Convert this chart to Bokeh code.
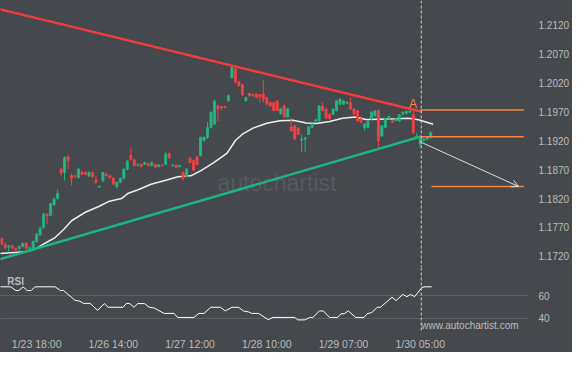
from bokeh.plotting import figure
from bokeh.layouts import column
from bokeh.models import Range1d, FixedTicker, Span, Arrow, OpenHead, PrintfTickFormatter, Label
from bokeh.core.properties import value
from bokeh.embed import file_html
from bokeh.resources import INLINE

# ---------------- data ----------------
candle_open = [1.1751, 1.1740, 1.1736, 1.1738, 1.1734, 1.1734, 1.1737, 1.1743, 1.1733, 1.1734,
               1.1745, 1.1757, 1.1770, 1.1793, 1.1791, 1.1809, 1.1820, 1.1871, 1.1865, 1.1893,
               1.1860, 1.1859, 1.1856, 1.1866, 1.1865, 1.1859, 1.1865, 1.1852, 1.1840, 1.1851,
               1.1862, 1.1859, 1.1855, 1.1841, 1.1848, 1.1855, 1.1871, 1.1895, 1.1887, 1.1878,
               1.1879, 1.1879, 1.1881, 1.1877, 1.1879, 1.1875, 1.1878, 1.1879, 1.1898, 1.1877,
               1.1878, 1.1875, 1.1865, 1.1858, 1.1889, 1.1886, 1.1892, 1.1894, 1.1920, 1.1926,
               1.1943, 1.1949, 1.1980, 1.1979, 1.1979, 1.1989, 1.2029, 1.2044, 1.2022, 1.2017,
               1.1989, 1.2002, 1.2000, 1.2001, 1.2000, 1.2001, 1.1995, 1.1986, 1.1986, 1.1989,
               1.1967, 1.1980, 1.1961, 1.1944, 1.1946, 1.1942, 1.1921, 1.1923, 1.1931, 1.1943,
               1.1954, 1.1954, 1.1980, 1.1975, 1.1966, 1.1966, 1.1972, 1.1983, 1.1983, 1.1985,
               1.1986, 1.1975, 1.1972, 1.1958, 1.1943, 1.1943, 1.1958, 1.1963, 1.1972, 1.1928,
               1.1943, 1.1958, 1.1954, 1.1955, 1.1954, 1.1966, 1.1967, 1.1969, 1.1966, 1.1926,
               1.1914, 1.1920, 1.1923, 1.1926]
candle_high = [1.1753, 1.1744, 1.1740, 1.1741, 1.1735, 1.1739, 1.1744, 1.1744, 1.1737, 1.1747,
               1.1761, 1.1772, 1.1796, 1.1795, 1.1813, 1.1822, 1.1835, 1.1874, 1.1893, 1.1894,
               1.1863, 1.1862, 1.1872, 1.1868, 1.1867, 1.1867, 1.1867, 1.1860, 1.1842, 1.1866,
               1.1865, 1.1862, 1.1858, 1.1849, 1.1856, 1.1872, 1.1887, 1.1907, 1.1889, 1.1881,
               1.1881, 1.1884, 1.1882, 1.1884, 1.1880, 1.1880, 1.1879, 1.1900, 1.1900, 1.1880,
               1.1879, 1.1878, 1.1867, 1.1872, 1.1893, 1.1887, 1.1893, 1.1927, 1.1927, 1.1952,
               1.1971, 1.1991, 1.1983, 1.1980, 1.1980, 1.2000, 1.2050, 1.2047, 1.2024, 1.2018,
               1.1996, 1.2003, 1.2001, 1.2002, 1.2001, 1.2025, 1.1996, 1.1988, 1.1988, 1.1990,
               1.1977, 1.1983, 1.1977, 1.1960, 1.1947, 1.1943, 1.1931, 1.1926, 1.1945, 1.1950,
               1.1958, 1.1982, 1.1986, 1.1976, 1.1967, 1.1976, 1.1990, 1.1993, 1.1990, 1.1988,
               1.1995, 1.1976, 1.1973, 1.1959, 1.1950, 1.1956, 1.1971, 1.1973, 1.1974, 1.1947,
               1.1959, 1.1963, 1.1956, 1.1959, 1.1966, 1.1971, 1.1972, 1.1972, 1.1972, 1.1934,
               1.1930, 1.1924, 1.1927, 1.1936]
candle_low = [1.1740, 1.1732, 1.1727, 1.1731, 1.1727, 1.1730, 1.1735, 1.1732, 1.1730, 1.1732,
              1.1744, 1.1756, 1.1768, 1.1776, 1.1790, 1.1808, 1.1818, 1.1859, 1.1851, 1.1871,
              1.1843, 1.1856, 1.1855, 1.1860, 1.1861, 1.1858, 1.1855, 1.1845, 1.1839, 1.1848,
              1.1858, 1.1855, 1.1843, 1.1837, 1.1846, 1.1853, 1.1869, 1.1885, 1.1875, 1.1875,
              1.1874, 1.1878, 1.1875, 1.1875, 1.1872, 1.1874, 1.1875, 1.1878, 1.1888, 1.1875,
              1.1873, 1.1874, 1.1851, 1.1856, 1.1881, 1.1868, 1.1878, 1.1893, 1.1919, 1.1923,
              1.1941, 1.1947, 1.1954, 1.1972, 1.1976, 1.1988, 1.2028, 1.2019, 1.2014, 1.1997,
              1.1988, 1.1996, 1.1996, 1.1993, 1.1986, 1.1986, 1.1982, 1.1979, 1.1971, 1.1971,
              1.1965, 1.1960, 1.1960, 1.1936, 1.1921, 1.1930, 1.1901, 1.1901, 1.1930, 1.1941,
              1.1953, 1.1953, 1.1971, 1.1958, 1.1957, 1.1964, 1.1971, 1.1982, 1.1982, 1.1984,
              1.1973, 1.1964, 1.1953, 1.1950, 1.1938, 1.1941, 1.1956, 1.1962, 1.1908, 1.1927,
              1.1942, 1.1956, 1.1951, 1.1954, 1.1953, 1.1964, 1.1965, 1.1968, 1.1931, 1.1923,
              1.1908, 1.1919, 1.1921, 1.1924]
candle_close = [1.1741, 1.1735, 1.1738, 1.1735, 1.1732, 1.1737, 1.1742, 1.1734, 1.1735, 1.1746,
                1.1758, 1.1768, 1.1793, 1.1790, 1.1811, 1.1819, 1.1829, 1.1864, 1.1891, 1.1886,
                1.1855, 1.1858, 1.1871, 1.1862, 1.1862, 1.1865, 1.1858, 1.1848, 1.1841, 1.1865,
                1.1860, 1.1856, 1.1845, 1.1848, 1.1855, 1.1871, 1.1885, 1.1888, 1.1877, 1.1879,
                1.1875, 1.1882, 1.1877, 1.1882, 1.1874, 1.1878, 1.1877, 1.1897, 1.1891, 1.1878,
                1.1874, 1.1877, 1.1855, 1.1871, 1.1882, 1.1869, 1.1879, 1.1926, 1.1926, 1.1943,
                1.1969, 1.1989, 1.1975, 1.1977, 1.1977, 1.1998, 1.2047, 1.2021, 1.2015, 1.1999,
                1.1995, 1.1998, 1.1998, 1.1995, 1.1996, 1.1992, 1.1983, 1.1980, 1.1972, 1.1972,
                1.1975, 1.1961, 1.1975, 1.1937, 1.1923, 1.1931, 1.1923, 1.1925, 1.1944, 1.1949,
                1.1956, 1.1980, 1.1972, 1.1959, 1.1958, 1.1975, 1.1989, 1.1992, 1.1989, 1.1987,
                1.1975, 1.1966, 1.1954, 1.1952, 1.1949, 1.1954, 1.1969, 1.1972, 1.1920, 1.1946,
                1.1958, 1.1962, 1.1952, 1.1958, 1.1965, 1.1969, 1.1971, 1.1971, 1.1934, 1.1928,
                1.1926, 1.1923, 1.1926, 1.1934]
candle_idx = list(range(len(candle_open)))

# moving average (read as sample points: candle index, price)
ma_idx = [-0.6, 6.7, 9.6, 12.4, 15.3, 17.8, 20.1, 23.8, 27.8, 30.6, 34.3, 36.3, 39.1, 42.8,
          47.6, 50.5, 54.2, 57.0, 60.8, 64.6, 67.0, 69.0, 72.2, 76.0, 79.7, 83.5, 87.3, 90.2,
          94.0, 97.7, 101.5, 104.4, 108.2, 112.9, 116.7, 119.5, 123.7]
ma_price = [1.17249, 1.17278, 1.17323, 1.17427, 1.17525, 1.17669, 1.17820, 1.17958, 1.18062,
            1.18148, 1.18200, 1.18292, 1.18351, 1.18448, 1.18524, 1.18576, 1.18593, 1.18679,
            1.18823, 1.18987, 1.19204, 1.19313, 1.19422, 1.19503, 1.19544, 1.19555, 1.19506,
            1.19498, 1.19532, 1.19589, 1.19610, 1.19567, 1.19572, 1.19579, 1.19589, 1.19562,
            1.19486]

# RSI (sample points: candle index, value)
rsi_idx = [-0.7, 2.6, 4.0, 4.9, 6.1, 7.3, 8.5, 9.5, 15.3, 16.8, 17.7, 21.0, 22.4, 23.4, 25.3,
           27.5, 29.4, 30.5, 34.8, 35.7, 36.7, 37.9, 39.0, 40.9, 42.3, 43.8, 45.7, 46.6, 49.4,
           50.4, 55.1, 56.5, 58.0, 59.9, 62.7, 64.1, 66.0, 67.9, 69.3, 70.7, 71.7, 73.6, 74.6,
           76.4, 77.8, 82.6, 84.0, 84.9, 86.9, 88.3, 89.2, 91.1, 92.2, 94.0, 96.3, 97.3, 98.2,
           99.4, 101.5, 103.9, 104.8, 106.1, 107.7, 108.6, 111.9, 113.1, 115.0, 116.2, 117.2,
           118.4, 120.5, 121.4, 123.3]
rsi_val = [68.2, 68.2, 64.9, 64.9, 68.2, 64.9, 64.9, 68.2, 68.2, 64.9, 64.9, 56.1, 55.3, 53.4,
           53.4, 47.1, 53.2, 49.9, 49.9, 53.2, 53.2, 49.9, 53.2, 53.2, 49.9, 49.1, 45.8, 44.4,
           44.4, 40.8, 40.8, 44.4, 44.4, 49.9, 49.9, 46.6, 49.9, 49.9, 46.6, 45.8, 44.4, 44.4,
           42.5, 38.8, 40.8, 40.8, 40.8, 38.6, 38.6, 40.8, 40.8, 46.6, 46.6, 40.8, 40.8, 44.1,
           44.1, 46.6, 40.8, 40.8, 44.1, 45.2, 49.9, 49.9, 58.9, 55.9, 61.4, 59.4, 61.4, 59.4,
           67.7, 68.2, 68.2]

# trend lines (start / end: candle index, price)
resistance_idx = [-0.6, 120.2]
resistance_price = [1.21475, 1.19705]
support_idx = [-0.6, 120.0]
support_price = [1.17150, 1.19268]

# horizontal levels
level_price = [1.1973, 1.1927, 1.1841]
level_start = [120.0, 120.0, 123.2]
level_end = [149.7, 149.7, 149.7]

# forecast arrow
forecast_idx = [120.0, 148.2]
forecast_price = [1.19181, 1.18408]

# pattern point label
point_label = "A"
point_idx = 117.9
point_price = 1.19832

now_idx = 120.3

price_ticks = [1.1720, 1.1770, 1.1820, 1.1870, 1.1920, 1.1970, 1.2020, 1.2070, 1.2120, 1.2170]
rsi_ticks = [40, 60]
time_tick_idx = [10, 32, 54, 76, 98, 120]
time_tick_labels = ["1/23 18:00", "1/26 14:00", "1/27 12:00", "1/28 10:00", "1/29 07:00", "1/30 05:00"]

# ---------------- styling ----------------
BG = "#45484d"
TXT = "#bcbcbc"
GREEN = "#22b882"
RED = "#f04343"
ORANGE = "#f5853f"
FONT = "Liberation Sans"

x_range = Range1d(-0.37, 151.05)

p = figure(width=572, height=267, x_range=x_range, y_range=Range1d(1.17007, 1.21626),
           output_backend="svg", toolbar_location=None, x_axis_location=None,
           y_axis_location="right", min_border=0, min_border_right=39,
           background_fill_color=BG, border_fill_color=BG, outline_line_color=None)
p.xgrid.visible = False
p.ygrid.visible = False
ya = p.yaxis[0]
ya.ticker = FixedTicker(ticks=price_ticks)
ya.formatter = PrintfTickFormatter(format="%.4f")
ya.axis_line_color = None
ya.major_tick_line_color = None
ya.minor_tick_line_color = None
ya.major_label_text_color = TXT
ya.major_label_text_font = FONT
ya.major_label_text_font_size = "10px"
ya.major_label_standoff = 4

# watermark
p.text(x=[61.85], y=[1.18477], text=["autochartist"], text_font=value(FONT),
       text_font_size="23px", text_color="#55595e", text_baseline="alphabetic", text_align="left")

colors = [GREEN if c >= o else RED for o, c in zip(candle_open, candle_close)]
tops = [max(o, c) for o, c in zip(candle_open, candle_close)]
bots = [min(o, c) for o, c in zip(candle_open, candle_close)]

p.line(ma_idx, ma_price, line_color="#eeeeee", line_width=1.5)
p.segment(x0=candle_idx, y0=candle_low, x1=candle_idx, y1=candle_high, line_color=colors, line_width=1)
p.vbar(x=candle_idx, top=tops, bottom=bots, width=0.6, fill_color=colors, line_color=colors, line_width=0.8)

p.line(resistance_idx, resistance_price, line_color="#f03c3c", line_width=2.5)
p.line(support_idx, support_price, line_color="#1db386", line_width=2.5)

p.segment(x0=level_start, y0=level_price, x1=level_end, y1=level_price, line_color=ORANGE, line_width=1.5)

p.add_layout(Arrow(x_start=forecast_idx[0], y_start=forecast_price[0],
                   x_end=forecast_idx[1], y_end=forecast_price[1],
                   line_color="#dddddd", line_width=1,
                   end=OpenHead(size=7, line_color="#dddddd", line_width=1)))

p.text(x=[point_idx], y=[point_price], text=[point_label], text_font=value(FONT),
       text_font_size="12px", text_color=ORANGE, text_align="center", text_baseline="middle")

p.add_layout(Span(location=now_idx, dimension="height", line_color="#cfcfcf",
                  line_dash="3 2", line_width=1))

# ---------------- RSI panel ----------------
r = figure(width=572, height=85, x_range=x_range, y_range=Range1d(28.2, 85.5),
           output_backend="svg", toolbar_location=None, y_axis_location="right",
           min_border=0, min_border_right=39,
           background_fill_color=BG, border_fill_color=BG, outline_line_color=None)
r.xgrid.visible = False
r.ygrid.grid_line_color = "#5d6166"
r.ygrid.grid_line_width = 1
ra = r.yaxis[0]
ra.ticker = FixedTicker(ticks=rsi_ticks)
ra.axis_line_color = None
ra.major_tick_line_color = None
ra.minor_tick_line_color = None
ra.major_label_text_color = TXT
ra.major_label_text_font = FONT
ra.major_label_text_font_size = "10px"
ra.major_label_standoff = 4
xa = r.xaxis[0]
xa.ticker = FixedTicker(ticks=time_tick_idx)
xa.major_label_overrides = {t: l for t, l in zip(time_tick_idx, time_tick_labels)}
xa.axis_line_color = None
xa.major_tick_line_color = None
xa.minor_tick_line_color = None
xa.major_label_text_color = TXT
xa.major_label_text_font = FONT
xa.major_label_text_font_size = "10.5px"
xa.major_label_standoff = 0

r.line(rsi_idx, rsi_val, line_color="#ffffff", line_width=1)
r.text(x=[1.6], y=[72.8], text=["RSI"], text_font=value(FONT), text_font_size="10px",
       text_font_style="bold", text_color="#b8bcc0", text_align="left", text_baseline="middle")
r.add_layout(Label(x=120.3, y=28.4, text="www.autochartist.com", text_font=FONT,
                   text_font_size="10px", text_color=TXT, text_align="left",
                   text_baseline="bottom"))
r.add_layout(Span(location=now_idx, dimension="height", line_color="#cfcfcf",
                  line_dash="3 2", line_width=1))

layout = column(p, r, spacing=0, styles={"background-color": BG})
open("out.html", "w").write(file_html(layout, INLINE))
